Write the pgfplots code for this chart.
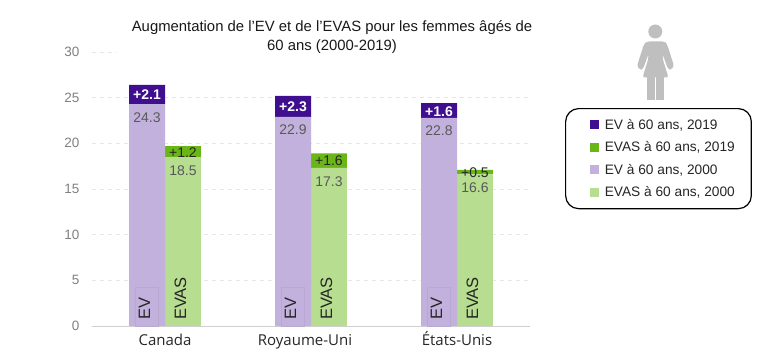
\documentclass[border=0pt]{standalone}
\usepackage{pgfplots}
\usepackage{fontspec}
\setmainfont{Liberation Sans}
\newfontfamily\xfont{Open Sans}
\pgfplotsset{compat=1.18}
\definecolor{dkpurple}{HTML}{3F0F8F}
\definecolor{dkgreen}{HTML}{6AB616}
\definecolor{ltpurple}{HTML}{C3B1DD}
\definecolor{ltgreen}{HTML}{B6DD90}
\definecolor{gridc}{HTML}{E6E6E6}
\definecolor{tickc}{HTML}{808080}
\definecolor{iconc}{HTML}{BFBFBF}
\definecolor{valc}{HTML}{595959}
\newcommand{\fsz}[1]{\fontsize{#1}{#1}\selectfont}
\tikzset{
  vl/.style={text=valc,font=\fsz{14}},
  wl/.style={text=white,font=\bfseries\fsz{14}},
  bl/.style={text=black!85,font=\fsz{14}},
  rl/.style={rotate=90,anchor=west,text=black!85,font=\fsz{16.5},inner xsep=6pt},
  evbox/.style={draw=ltpurple!95!black,line width=0.4pt},
}
\pgfplotsset{swatch/.style={legend image code/.code={\fill[sharp corners,#1] (9.5pt,-4pt) rectangle (17.5pt,4pt);\path (0pt,0pt) (21.5pt,0pt);}}}
\begin{document}
\begin{tikzpicture}[x=1pt,y=1pt]
\useasboundingbox (0,0) rectangle (770,355);
\begin{axis}[
  at={(92pt,29pt)}, anchor=south west, scale only axis,
  width=438pt, height=274pt,
  xmin=-0.5, xmax=2.5, ymin=0, ymax=30,
  ybar stacked, bar width=36pt,
  axis y line=left, axis x line=bottom,
  x axis line style={draw=gridc!90!black, line width=0.8pt, -},
  y axis line style={draw=none, -},
  xtick={0,1,2}, xticklabels={Canada,\hspace*{-12pt}Royaume-Uni,États-Unis},
  ytick={0,5,...,30},
  major tick length=0pt,
  ymajorgrids, grid style={gridc, line width=0.8pt, dash pattern=on 4pt off 4pt},
  /pgf/number format/assume math mode=true,
  yticklabel style={font=\fsz{13.5}, text=tickc, xshift=-9pt},
  xticklabel style={font=\xfont\fsz{15}, text=black!85, text height=11pt, text depth=3pt, yshift=-5pt},
  legend style={at={(1.08,0.7956)}, anchor=north west, draw=black, line width=1.2pt,
    rounded corners=13pt, font=\fsz{13.7}, text=black!85, inner xsep=14.5pt, inner ysep=8.5pt,
    row sep=6.9pt},
  legend cell align=left,
  after end axis/.code={
\node[wl] at (axis cs:-0.123,25.3) {+2.1};
\node[wl] at (axis cs:0.877,24.0) {+2.3};
\node[wl] at (axis cs:1.877,23.45) {+1.6};
\node[bl] at (axis cs:0.123,18.95) {+1.2};
\node[bl] at (axis cs:1.123,18.05) {+1.6};
\node[bl] at (axis cs:2.123,16.75) {+0.5};
\node[vl] at (axis cs:-0.123,22.78) {24.3};
\node[vl] at (axis cs:0.877,21.47) {22.9};
\node[vl] at (axis cs:1.877,21.36) {22.8};
\node[vl] at (axis cs:0.123,16.98) {18.5};
\node[vl] at (axis cs:1.123,15.77) {17.3};
\node[vl] at (axis cs:2.123,15.1) {16.6};
\draw[evbox] (axis cs:-0.202,0) rectangle (axis cs:-0.044,4.27);
\draw[evbox] (axis cs:0.798,0) rectangle (axis cs:0.956,4.27);
\draw[evbox] (axis cs:1.798,0) rectangle (axis cs:1.956,4.27);
\node[rl] at (axis cs:-0.14,0) {EV};
\node[rl] at (axis cs:0.86,0) {EV};
\node[rl] at (axis cs:1.86,0) {EV};
\node[rl] at (axis cs:0.106,0) {EVAS};
\node[rl] at (axis cs:1.106,0) {EVAS};
\node[rl] at (axis cs:2.106,0) {EVAS};
  },
]
\addlegendimage{swatch=dkpurple}\addlegendentry{EV à 60 ans, 2019}
\addlegendimage{swatch=dkgreen}\addlegendentry{EVAS à 60 ans, 2019}
\addlegendimage{swatch=ltpurple}\addlegendentry{EV à 60 ans, 2000}
\addlegendimage{swatch=ltgreen}\addlegendentry{EVAS à 60 ans, 2000}
\addplot[fill=ltpurple,draw=none,forget plot] coordinates {(-0.123,24.3)(0.123,0)(0.877,22.9)(1.123,0)(1.877,22.8)(2.123,0)};
\addplot[fill=ltgreen,draw=none,forget plot] coordinates {(-0.123,0)(0.123,18.5)(0.877,0)(1.123,17.3)(1.877,0)(2.123,16.6)};
\addplot[fill=dkpurple,draw=none,forget plot] coordinates {(-0.123,2.1)(0.123,0)(0.877,2.3)(1.123,0)(1.877,1.6)(2.123,0)};
\addplot[fill=dkgreen,draw=none,forget plot] coordinates {(-0.123,0)(0.123,1.2)(0.877,0)(1.123,1.6)(1.877,0)(2.123,0.5)};
\end{axis}
\pgfkeys{/pgf/fpu=false}
% title
\node[fill=white,align=center,font=\fsz{14.86},text=black!90,inner sep=0pt,minimum width=430pt,minimum height=46pt] at (332,318) {Augmentation de l’EV et de l’EVAS pour les femmes âgés de\\[4pt]60 ans (2000-2019)};
% person icon
\begin{scope}[shift={(0,355)},y=-1pt]
\fill[iconc] (655.3,31.5) circle (7);
\fill[iconc,rounded corners=2.5pt] (647,41.5) -- (664.5,41.5) -- (667,44) -- (674,66) -- (671,70) -- (668,69) -- (662.5,54) -- (663,60) -- (668.5,77.5) -- (642.5,77.5) -- (648,60) -- (648.5,54) -- (643,69) -- (640,70) -- (637,66) -- (644,44) -- cycle;
\fill[iconc] (647,75) rectangle (654.7,100.5);
\fill[iconc] (656,75) rectangle (664,100.5);
\end{scope}
\end{tikzpicture}
\end{document}
